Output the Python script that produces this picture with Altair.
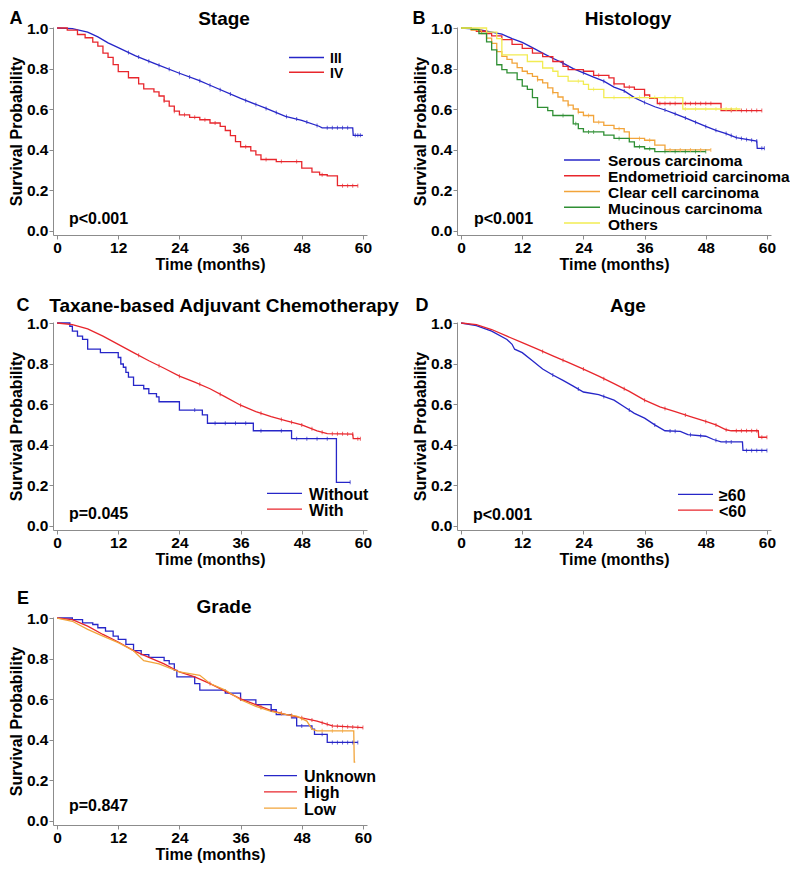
import altair as alt
import pandas as pd
import numpy as np

FONT = "Liberation Sans"
BLUE = "#2626c8"
RED = "#e8262c"
ORANGE = "#f2a43a"
GREEN = "#2f8f34"
YELLOW = "#f2ec52"

# ---------------- data ----------------
# Panel A: Stage
stage3_t = [0, 3, 6, 8, 10, 12, 15.4, 19.3, 24, 27.8, 30, 36, 40.9, 44.8, 48, 51.4, 52, 58, 58.1, 60]
stage3_s = [1, 0.997, 0.98, 0.956, 0.927, 0.903, 0.863, 0.823, 0.777, 0.742, 0.718, 0.653, 0.605, 0.565, 0.545, 0.516, 0.508, 0.508, 0.471, 0.471]
stage3_c = [14, 16, 18, 20, 22, 24, 26, 28, 30, 32, 34, 37, 39, 41, 43, 45, 47, 49, 51, 53, 54, 55, 56, 57, 58.5, 59, 59.5]
stage4_t = [0, 2, 4, 5.5, 7, 8, 9, 10, 11, 12, 14, 16, 17, 19, 20, 21, 22, 23, 24, 26, 28, 30, 32, 33, 34, 35, 36, 38, 39, 40, 43, 48, 50, 51.5, 53, 55, 59]
stage4_s = [1, 0.99, 0.968, 0.952, 0.93, 0.911, 0.876, 0.855, 0.82, 0.785, 0.755, 0.725, 0.7, 0.685, 0.665, 0.64, 0.615, 0.59, 0.572, 0.56, 0.548, 0.532, 0.515, 0.495, 0.47, 0.44, 0.415, 0.395, 0.375, 0.352, 0.342, 0.31, 0.29, 0.277, 0.271, 0.223, 0.223]
stage4_c = [21, 23, 25, 27, 29, 31, 37, 41, 44, 47, 52, 56, 57, 58, 59]

# Panel B: Histology
serous_t = [0, 3, 6, 8, 10, 12, 14, 16, 18, 20, 22, 24, 26, 28, 30, 32, 34, 36, 38, 40, 42, 44, 46, 48, 50, 52, 54, 56, 58, 58.1, 59.5]
serous_s = [1, 0.995, 0.98, 0.97, 0.948, 0.929, 0.903, 0.876, 0.851, 0.827, 0.8, 0.779, 0.758, 0.738, 0.709, 0.69, 0.657, 0.633, 0.612, 0.596, 0.577, 0.557, 0.536, 0.515, 0.496, 0.48, 0.46, 0.451, 0.443, 0.407, 0.407]
serous_c = [20, 24, 28, 32, 36, 40, 42, 44, 46, 48, 50, 52, 53, 54, 55, 56, 57, 58, 59, 59.5]
endo_t = [0, 2, 3, 5, 6, 8, 10, 12, 14, 16, 18, 20, 21, 24, 26, 29, 30, 32, 34, 36, 37, 38.5, 51, 59]
endo_s = [1, 0.992, 0.984, 0.973, 0.961, 0.943, 0.919, 0.9, 0.876, 0.859, 0.835, 0.811, 0.795, 0.787, 0.767, 0.754, 0.725, 0.709, 0.698, 0.67, 0.654, 0.628, 0.593, 0.593]
endo_c = [27, 30, 33, 36, 39, 40, 41, 42, 44, 45, 46, 47, 48, 49, 53, 55, 56, 57, 58, 59]
clear_t = [0, 2, 4, 5, 6, 7, 8, 9, 10, 11, 12, 13, 14, 15, 16, 17, 18, 19, 20, 21, 22, 23, 24, 26, 28, 30, 32, 33, 36, 38, 40, 49]
clear_s = [1, 0.99, 0.973, 0.95, 0.924, 0.884, 0.86, 0.845, 0.827, 0.805, 0.787, 0.775, 0.762, 0.745, 0.73, 0.705, 0.682, 0.66, 0.641, 0.62, 0.601, 0.585, 0.569, 0.536, 0.52, 0.504, 0.488, 0.456, 0.447, 0.423, 0.399, 0.399]
clear_c = [15, 18, 21, 23, 25, 27, 31, 35, 37, 41, 43, 45, 47, 49]
muc_t = [0, 2, 3.5, 5, 6, 7, 8, 9, 11, 12, 13, 14, 15, 17, 18, 22, 23, 24, 28, 30, 33, 34, 36, 38, 48]
muc_s = [1, 0.993, 0.973, 0.932, 0.892, 0.819, 0.795, 0.779, 0.746, 0.714, 0.698, 0.657, 0.609, 0.593, 0.569, 0.528, 0.504, 0.488, 0.472, 0.456, 0.439, 0.415, 0.405, 0.391, 0.391]
muc_c = [20, 22.5, 25, 26, 31, 35, 37, 40, 42, 44, 46, 48]
oth_t = [0, 5, 7, 8, 13, 16, 18, 19, 21, 24, 25, 28, 43.5, 54.8]
oth_s = [1, 0.98, 0.948, 0.868, 0.835, 0.803, 0.787, 0.762, 0.738, 0.722, 0.698, 0.657, 0.601, 0.601]
oth_c = [23, 26, 30, 33, 35, 38, 40, 42, 44, 46, 48, 50, 52, 53, 54]

# Panel C: Taxane-based adjuvant chemotherapy
with_t = [0, 3, 6, 9, 12, 15, 18, 21, 24, 27, 30, 33, 36, 39, 42, 45, 48, 51, 53, 58, 58.1, 59.5]
with_s = [1, 0.992, 0.971, 0.935, 0.895, 0.854, 0.814, 0.777, 0.738, 0.709, 0.676, 0.636, 0.595, 0.563, 0.539, 0.518, 0.498, 0.469, 0.455, 0.453, 0.43, 0.43]
with_c = [16, 20, 24, 28, 32, 36, 40, 44, 46, 48, 50, 52, 54, 55, 56, 57, 58, 59, 59.5]
without_t = [0, 2.5, 3, 4, 5, 6, 8.5, 12, 12.5, 13, 13.5, 14, 15, 17, 18, 19.5, 20, 24, 28.5, 29.5, 38.5, 46, 54.8, 57.5]
without_s = [1, 0.984, 0.96, 0.935, 0.919, 0.871, 0.854, 0.83, 0.798, 0.782, 0.757, 0.733, 0.693, 0.676, 0.652, 0.636, 0.612, 0.571, 0.547, 0.506, 0.469, 0.43, 0.215, 0.215]
without_c = [27, 31, 33, 35, 37, 40, 44, 47, 49, 51, 53, 57.5]

# Panel D: Age
ageold_t = [0, 3, 6, 9, 10, 10.5, 12, 14, 16, 18, 20, 22, 24, 27, 30, 32, 34, 36, 38, 40, 43, 44.5, 48, 49.5, 51, 55.2, 55.3, 60]
ageold_s = [1, 0.987, 0.96, 0.919, 0.895, 0.871, 0.854, 0.814, 0.773, 0.744, 0.717, 0.689, 0.66, 0.647, 0.62, 0.587, 0.555, 0.531, 0.498, 0.469, 0.466, 0.45, 0.442, 0.426, 0.414, 0.414, 0.372, 0.372]
ageold_c = [18, 23, 28, 33, 38, 41, 42, 45, 47, 50, 52, 53, 56, 57, 58, 59, 60]
ageyoung_t = [0, 3, 6, 9, 12, 15, 18, 21, 24, 27, 30, 33, 36, 39, 42, 45, 48, 50, 52, 53, 58.3, 58.4, 60]
ageyoung_s = [1, 0.992, 0.968, 0.935, 0.903, 0.871, 0.838, 0.806, 0.773, 0.738, 0.701, 0.663, 0.62, 0.587, 0.563, 0.539, 0.515, 0.498, 0.474, 0.469, 0.469, 0.437, 0.437]
ageyoung_c = [16, 20, 24, 28, 32, 36, 40, 44, 48, 50, 52, 54, 55, 56, 57, 58, 59, 60]

# Panel E: Grade
unk_t = [0, 3, 5, 7, 8, 9.5, 11, 12, 13.5, 15, 16.5, 18, 21, 22, 23, 23.5, 27, 28, 33, 36, 39, 42, 43, 46, 47, 50, 50.5, 53, 59]
unk_s = [1, 0.992, 0.976, 0.968, 0.952, 0.935, 0.911, 0.895, 0.87, 0.839, 0.82, 0.806, 0.79, 0.774, 0.742, 0.71, 0.677, 0.645, 0.63, 0.597, 0.573, 0.548, 0.524, 0.508, 0.468, 0.452, 0.427, 0.387, 0.387]
unk_c = [42, 48, 52, 54, 55, 56, 57, 58, 59]
high_t = [0, 3, 6, 9, 12, 15, 18, 21, 24, 27, 30, 33, 36, 39, 42, 45, 48, 51, 54, 60]
high_s = [1, 0.992, 0.96, 0.919, 0.882, 0.839, 0.806, 0.774, 0.734, 0.71, 0.677, 0.64, 0.602, 0.573, 0.544, 0.524, 0.508, 0.492, 0.468, 0.46]
high_c = [30, 36, 40, 44, 46, 48, 50, 52, 53, 54, 55, 56, 57, 58, 59, 60]
low_t = [0, 3, 6, 9, 12, 15, 17, 20, 24, 28, 30, 33, 36, 39, 42, 45, 47, 49, 50, 51, 58.2, 58.3, 58.5]
low_s = [1, 0.984, 0.944, 0.911, 0.879, 0.839, 0.79, 0.774, 0.734, 0.718, 0.677, 0.645, 0.597, 0.565, 0.54, 0.524, 0.516, 0.492, 0.452, 0.444, 0.444, 0.29, 0.29]
low_c = [40, 44, 46, 48, 52, 54, 56]

x_ticks = [0, 12, 24, 36, 48, 60]
y_ticks = [0.0, 0.2, 0.4, 0.6, 0.8, 1.0]

W, H = 314, 208
XDOM = [-0.8, 60.8]
YDOM = [-0.02, 1.005]
K = (H / (YDOM[1] - YDOM[0])) / 206.0  # in-plot vertical offsets relative to the reference's scale

PANELS = [
    dict(letter="A", title="Stage", p="p<0.001",
         series=[("III", stage3_t, stage3_s, stage3_c, BLUE, "linear"),
                 ("IV", stage4_t, stage4_s, stage4_c, RED, "step-after")],
         title_y=-8, letter_xy=(-37, -8), p_xy=(16, 195), legend=(236, 271, 31, 15, 6, 14)),
    dict(letter="B", title="Histology", p="p<0.001",
         series=[("Serous carcinoma", serous_t, serous_s, serous_c, BLUE, "linear"),
                 ("Endometrioid carcinoma", endo_t, endo_s, endo_c, RED, "step-after"),
                 ("Clear cell carcinoma", clear_t, clear_s, clear_c, ORANGE, "step-after"),
                 ("Mucinous carcinoma", muc_t, muc_s, muc_c, GREEN, "step-after"),
                 ("Others", oth_t, oth_s, oth_c, YELLOW, "step-after")],
         title_y=-8, letter_xy=(-38, -8), p_xy=(17, 195), legend=(107, 143, 135, 16, 8, 15.5)),
    dict(letter="C", title="Taxane-based Adjuvant Chemotherapy", p="p=0.045",
         series=[("Without", without_t, without_s, without_c, BLUE, "step-after"),
                 ("With", with_t, with_s, with_c, RED, "linear")],
         title_y=-16, letter_xy=(-30, -16.5), p_xy=(16, 195), legend=(214, 249, 174, 16, 7, 16)),
    dict(letter="D", title="Age", p="p<0.001",
         series=[("\u226560", ageold_t, ageold_s, ageold_c, BLUE, "linear"),
                 ("<60", ageyoung_t, ageyoung_s, ageyoung_c, RED, "linear")],
         title_y=-16, letter_xy=(-35, -16.5), p_xy=(16, 196), legend=(221, 256, 175, 16, 6, 16)),
    dict(letter="E", title="Grade", p="p=0.847",
         series=[("Unknown", unk_t, unk_s, unk_c, BLUE, "step-after"),
                 ("High", high_t, high_s, high_c, RED, "linear"),
                 ("Low", low_t, low_s, low_c, ORANGE, "linear")],
         title_y=-10.5, letter_xy=(-30, -18.5), p_xy=(16, 192), legend=(211, 244, 161, 16.5, 7, 16)),
]


def surv_at(t, s, c, interp):
    t = np.asarray(t, float)
    s = np.asarray(s, float)
    out = []
    for ci in c:
        if interp == "linear":
            out.append(float(np.interp(ci, t, s)))
        else:
            idx = max(0, int(np.searchsorted(t, ci, side="right")) - 1)
            out.append(float(s[idx]))
    return out


def text_layer(txt, x, y, size, align="left", weight="bold"):
    return alt.Chart(alt.Data(values=[{}])).mark_text(
        text=txt, font=FONT, fontSize=size, fontWeight=weight, color="black",
        align=align, baseline="middle").encode(x=alt.value(x), y=alt.value(y))


def panel(cfg):
    xs = alt.Scale(domain=XDOM, nice=False, zero=False)
    ys = alt.Scale(domain=YDOM, nice=False, zero=False)
    xax = alt.Axis(values=x_ticks, title="Time (months)", grid=False, labelFlush=False)
    yax = alt.Axis(values=y_ticks, format=".1f", title="Survival Probability", grid=False)
    layers = []
    for name, t, s, c, color, interp in cfg["series"]:
        df = pd.DataFrame({"t": t, "s": s})
        layers.append(alt.Chart(df).mark_line(color=color, strokeWidth=1.3, interpolate=interp, clip=True).encode(
            x=alt.X("t:Q", scale=xs, axis=xax), y=alt.Y("s:Q", scale=ys, axis=yax)))
    for name, t, s, c, color, interp in cfg["series"]:
        cdf = pd.DataFrame({"t": c, "s": surv_at(t, s, c, interp)})
        layers.append(alt.Chart(cdf).mark_tick(orient="vertical", color=color, size=4, thickness=1).encode(
            x=alt.X("t:Q", scale=xs, axis=xax), y=alt.Y("s:Q", scale=ys, axis=yax)))
    x0, x1, ly, dy, gap, fs = cfg["legend"]
    for i, (name, t, s, c, color, interp) in enumerate(cfg["series"]):
        yy = (ly + i * dy) * K
        layers.append(alt.Chart(alt.Data(values=[{}])).mark_rule(color=color, strokeWidth=1.4).encode(
            x=alt.value(x0), x2=alt.value(x1), y=alt.value(yy)))
        layers.append(text_layer(name, x1 + gap, yy + 1.5, fs))
    layers.append(text_layer(cfg["title"], 171, cfg["title_y"], 19, align="center"))
    lx, lyy = cfg["letter_xy"]
    layers.append(text_layer(cfg["letter"], lx, lyy, 18, align="center"))
    px, py = cfg["p_xy"]
    layers.append(text_layer(cfg["p"], px, py * K, 16))
    return alt.layer(*layers).properties(width=W, height=H)


charts = [panel(p) for p in PANELS]

chart = alt.concat(*charts, columns=2, spacing={"row": 87, "column": 90}, bounds="flush").properties(
    padding={"left": 0, "top": 2, "right": 0, "bottom": 0}
).configure_view(stroke=None).configure_axis(
    labelFont=FONT, labelFontWeight="bold", labelFontSize=15.5, labelColor="black",
    titleFont=FONT, titleFontWeight="bold", titleFontSize=16, titleColor="black",
    domainColor="#8c8c8c", tickColor="#8c8c8c", tickSize=4, labelPadding=1,
).configure_axisX(titlePadding=1).configure_axisY(titlePadding=2)

chart.save("out.html", embed_options={"renderer": "svg", "actions": False})
